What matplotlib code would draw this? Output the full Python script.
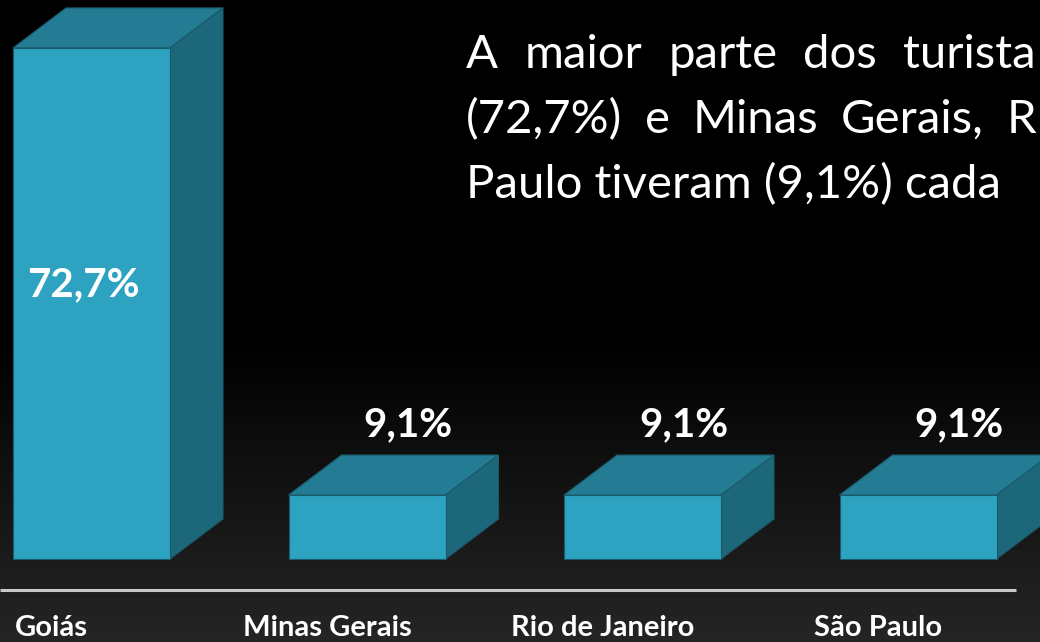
import numpy as np
import matplotlib
matplotlib.use("Agg")
import matplotlib.pyplot as plt
from matplotlib.patches import Polygon

categories = ["Goiás", "Minas Gerais", "Rio de Janeiro", "São Paulo"]
values = [72.7, 9.1, 9.1, 9.1]
value_labels = ["72,7%", "9,1%", "9,1%", "9,1%"]
title_lines = ["A maior parte dos turista",
               "(72,7%) e Minas Gerais, R",
               "Paulo tiveram (9,1%) cada"]
title_justify = [True, True, False]

W, H = 1040, 642
fig = plt.figure(figsize=(W / 100, H / 100), dpi=100)
fig.patch.set_facecolor("black")
ax = fig.add_axes([0, 0, 1, 1])
ax.set_facecolor("black")

px_per_x = 275.5
px_per_y = 7.03
x0_px = 91.5
y0_px = H - 559
xlim = (-x0_px / px_per_x, (W - x0_px) / px_per_x)
ylim = (-y0_px / px_per_y, (H - y0_px) / px_per_y)
ax.set_xlim(*xlim)
ax.set_ylim(*ylim)
ax.axis("off")

# background gradient (row 0 = bottom)
yy = np.linspace(0, 1, 256)
g = np.clip((0.48 - yy) / 0.48, 0, 1) * 0.145
img = np.dstack([g, g, g]).reshape(256, 1, 3)
ax.imshow(img, extent=[*xlim, *ylim], aspect="auto", origin="lower",
          zorder=0, interpolation="bilinear")

front_c = "#2da3c1"
top_c = "#237c93"
side_c = "#1d677a"
edge_c = "#1b5a6b"
bw = 157 / px_per_x
dx = 53 / px_per_x
dy = 40 / px_per_y

xs = np.arange(len(categories))
for x, v in zip(xs, values):
    left = x - bw / 2
    right = x + bw / 2
    ax.bar(x, v, width=bw, color=front_c, edgecolor=edge_c, linewidth=0.8, zorder=3)
    top = Polygon([[left, v], [right, v], [right + dx, v + dy], [left + dx, v + dy]],
                  closed=True, facecolor=top_c, edgecolor=edge_c, linewidth=0.8, zorder=2)
    side = Polygon([[right, 0], [right + dx, dy], [right + dx, v + dy], [right, v]],
                   closed=True, facecolor=side_c, edgecolor=edge_c, linewidth=0.8, zorder=2)
    ax.add_patch(top)
    ax.add_patch(side)

bold_font = ["Lato", "DejaVu Sans"]
for x, v, lab in zip(xs, values, value_labels):
    if v > 30:
        ax.text(x - 0.03, v / 2 + 2.6, lab, ha="center", va="center", color="white",
                fontsize=29, fontweight="bold", family=bold_font, zorder=5)
    else:
        ax.text(x + 0.15, v + 10.0, lab, ha="center", va="center", color="white",
                fontsize=29, fontweight="bold", family=bold_font, zorder=5)

# baseline
base_y = (559 - 590) / px_per_y
ax.plot([xlim[0], (1016 - x0_px) / px_per_x], [base_y, base_y],
        color="#c8c8c8", linewidth=2.2, zorder=4, solid_capstyle="butt")

for x, c in zip(xs, categories):
    ax.text(x - 0.145, (559 - 642) / px_per_y + 0.1, c, ha="center", va="bottom",
            color="white", fontsize=21, fontweight="bold", family=bold_font, zorder=5)

# title text, justified like the reference (first two lines)
fig.canvas.draw()
renderer = fig.canvas.get_renderer()
left_px, right_px = 466, 1036
for i, (line, just) in enumerate(zip(title_lines, title_justify)):
    y_px = 55 + 65 * i
    ty = (559 - y_px) / px_per_y
    if not just:
        ax.text((left_px - x0_px) / px_per_x, ty, line, ha="left", va="center",
                color="white", fontsize=34, family=["Lato", "DejaVu Sans"], zorder=5)
        continue
    words = line.split(" ")
    arts = []
    widths = []
    for w_ in words:
        t = ax.text(0, ty, w_, ha="left", va="center", color="white", fontsize=34,
                    family=["Lato", "DejaVu Sans"], zorder=5)
        arts.append(t)
        widths.append(t.get_window_extent(renderer).width)
    gap = (right_px - left_px - sum(widths)) / (len(words) - 1)
    cur = left_px
    for t, wd in zip(arts, widths):
        t.set_x((cur - x0_px) / px_per_x)
        cur += wd + gap

fig.savefig("out.png", dpi=100, facecolor=fig.get_facecolor())
